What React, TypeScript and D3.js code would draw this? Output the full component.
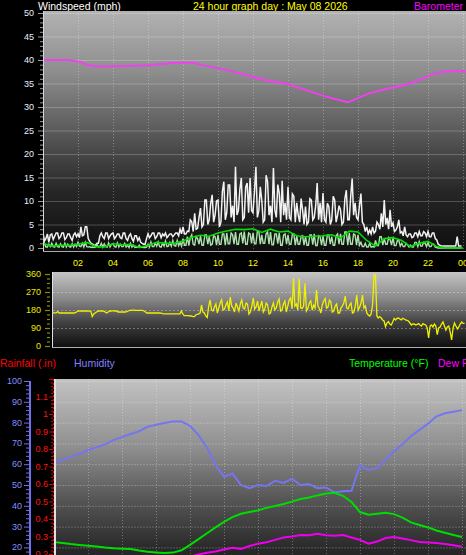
import React from "react";
import * as d3 from "d3";

// ---------- DATA ----------
const hourLabels = ["02", "04", "06", "08", "10", "12", "14", "16", "18", "20", "22", "00"];
const windTicks = [0, 5, 10, 15, 20, 25, 30, 35, 40, 45, 50];
const dirTicks = [0, 90, 180, 270, 360];
const humTicks = [20, 30, 40, 50, 60, 70, 80, 90, 100];
const rainTicks = [0.2, 0.3, 0.4, 0.5, 0.6, 0.7, 0.8, 0.9, 1.0, 1.1];

// wind gust (mph), every 5 minutes
const gust = [
  3.2, 1.5, 2.0, 3.0, 1.2, 2.8, 3.0, 1.8, 2.5, 3.2, 3.2, 2.0,
  2.4, 3.2, 3.2, 1.8, 2.2, 3.0, 3.0, 2.2, 1.6, 2.8, 3.2, 2.4,
  3.0, 2.2, 4.5, 2.6, 2.8, 4.5, 4.5, 2.0, 1.4, 1.0, 0.8, 0.6,
  0.6, 1.0, 1.0, 2.6, 3.2, 2.4, 2.0, 3.2, 3.2, 2.0, 2.6, 3.0,
  3.2, 2.0, 2.4, 3.0, 3.0, 2.2, 2.0, 3.2, 3.2, 2.0, 1.6, 2.6,
  3.0, 2.0, 1.4, 2.6, 2.6, 1.6, 2.2, 1.2, 1.0, 0.8, 0.8, 2.0,
  3.0, 2.2, 2.6, 3.2, 3.2, 2.0, 2.4, 3.2, 3.2, 2.2, 3.0, 2.6,
  3.2, 2.2, 2.6, 3.0, 3.0, 2.4, 2.8, 3.2, 3.2, 2.6, 4.0, 3.0,
  4.5, 3.0, 3.0, 3.6, 3.5, 6.0, 5.6, 3.5, 7.4, 4.0, 4.2, 6.5,
  8.5, 4.5, 5.0, 10.2, 10.2, 5.0, 6.0, 9.5, 11.3, 5.5, 7.0, 10.0,
  10.2, 4.5, 5.5, 12.0, 14.1, 6.0, 7.5, 13.4, 13.4, 6.5, 9.0, 5.5,
  17.3, 7.0, 8.0, 12.5, 14.9, 6.0, 6.5, 13.0, 13.8, 7.5, 14.9, 8.0,
  7.5, 12.0, 17.3, 6.5, 8.0, 13.0, 10.2, 5.5, 6.0, 15.5, 14.1, 7.0,
  9.0, 5.5, 17.0, 8.0, 6.5, 13.5, 11.7, 5.5, 14.3, 7.0, 9.6, 6.0,
  13.0, 6.5, 6.0, 11.5, 11.0, 5.5, 9.6, 7.0, 5.5, 10.5, 8.1, 5.0,
  8.8, 5.0, 5.5, 10.5, 10.2, 6.0, 6.5, 9.0, 13.8, 6.0, 9.6, 5.5,
  11.7, 6.0, 5.5, 9.5, 8.8, 5.0, 6.0, 11.0, 10.2, 5.5, 7.0, 9.0,
  8.1, 5.0, 5.5, 10.5, 12.3, 6.0, 6.0, 11.0, 14.8, 7.0, 9.6, 6.5,
  6.0, 9.0, 11.6, 5.5, 5.0, 3.5, 4.5, 3.0, 3.8, 3.0, 4.5, 3.2,
  3.6, 5.5, 5.0, 4.0, 7.4, 4.5, 10.2, 5.0, 6.4, 4.0, 8.1, 4.5,
  5.3, 3.5, 3.8, 4.5, 6.0, 3.2, 3.5, 2.6, 4.5, 2.8, 2.4, 3.0,
  3.0, 2.2, 2.4, 3.2, 3.2, 2.4, 3.5, 2.6, 2.6, 3.5, 3.2, 2.4,
  3.5, 2.4, 2.4, 3.2, 3.2, 2.0, 1.7, 0.8, 0.6, 0.4, 0.4, 0.4,
  0.4, 0.4, 0.4, 0.4, 0.4, 0.4, 0.4, 0.4, 2.4, 0.4, 0.4, 0.4,
];

// average wind speed (mph), every 5 minutes
const avgWind = [
  0.3, 1.0, 0.2, 0.2, 0.8, 0.3, 1.0, 0.3, 0.2, 1.0, 0.3, 0.2,
  0.9, 0.3, 0.2, 1.0, 0.2, 0.8, 0.3, 0.2, 0.9, 0.2, 0.8, 0.3,
  1.2, 0.4, 0.3, 1.0, 0.2, 1.2, 0.3, 0.2, 0.3, 0.1, 0.2, 0.1,
  0.2, 0.8, 0.2, 0.3, 1.0, 0.2, 0.9, 0.3, 0.2, 1.1, 0.2, 0.8,
  0.9, 0.3, 0.2, 1.1, 0.2, 0.8, 0.3, 0.3, 1.0, 0.2, 0.6, 0.1,
  1.0, 0.2, 0.6, 0.1, 0.2, 0.1, 0.6, 0.1, 0.2, 0.1, 0.1, 0.2,
  0.8, 0.2, 1.3, 0.3, 0.3, 1.0, 0.4, 1.3, 0.3, 0.2, 1.0, 0.4,
  1.5, 0.3, 0.4, 1.2, 0.4, 1.6, 0.5, 0.4, 1.6, 0.5, 1.2, 0.4,
  2.0, 0.6, 0.6, 2.4, 0.5, 2.2, 2.8, 0.8, 0.6, 2.4, 2.0, 0.8,
  2.6, 0.6, 0.6, 2.8, 2.8, 0.8, 2.4, 0.6, 0.8, 2.6, 2.4, 0.6,
  2.8, 0.8, 0.8, 3.0, 3.0, 0.6, 3.2, 0.9, 0.9, 3.2, 2.8, 0.8,
  3.4, 0.8, 0.8, 3.0, 3.2, 1.0, 3.5, 0.8, 0.8, 3.2, 3.0, 1.0,
  3.2, 0.9, 0.9, 3.6, 3.6, 0.8, 2.8, 1.0, 1.0, 3.0, 3.4, 0.8,
  3.4, 0.7, 0.7, 3.0, 3.0, 0.9, 3.2, 0.6, 0.6, 2.8, 3.0, 0.8,
  2.8, 0.8, 0.8, 3.0, 3.0, 0.6, 2.6, 0.8, 0.8, 2.4, 2.6, 0.6,
  2.4, 0.6, 0.6, 2.8, 2.8, 0.7, 3.0, 0.5, 0.5, 2.6, 2.4, 0.6,
  2.6, 0.6, 0.6, 2.8, 2.8, 0.8, 2.4, 0.6, 0.6, 2.6, 3.0, 0.8,
  3.0, 0.8, 0.8, 3.4, 3.4, 0.6, 3.2, 0.8, 0.8, 3.0, 2.8, 0.6,
  2.8, 0.6, 1.2, 0.3, 0.3, 1.0, 0.2, 0.2, 1.0, 0.2, 0.3, 0.2,
  1.6, 0.5, 0.5, 2.4, 2.4, 0.6, 2.0, 0.8, 0.8, 2.2, 1.8, 0.6,
  2.2, 0.5, 0.5, 1.6, 1.6, 0.4, 1.0, 0.3, 0.3, 1.0, 0.6, 0.2,
  0.6, 0.2, 0.2, 1.2, 1.2, 0.3, 1.4, 0.4, 0.4, 1.2, 1.0, 0.3,
  1.2, 0.3, 0.3, 0.8, 0.8, 0.2, 0.1, 0.0, 0.0, 0.0, 0.0, 0.0,
  0.0, 0.0, 0.0, 0.0, 0.0, 0.0, 0.0, 0.0, 0.0, 0.0, 0.0, 0.0,
];

// 10-minute average wind (mph), every 30 minutes
const avg10 = [
  1.0, 0.4, 0.6, 0.6, 0.8, 1.2, 0.3, 0.2, 0.9, 0.7, 0.8, 0.1,
  0.6, 1.2, 1.0, 1.0, 1.5, 2.3, 2.7, 2.5, 3.2, 3.6, 4.0, 3.9,
  4.1, 3.3, 4.0, 3.4, 3.6, 2.6, 2.4, 2.5, 2.6, 2.8, 2.1, 3.6,
  3.4, 1.6, 0.4, 2.0, 2.2, 1.6, 0.3, 1.0, 1.4, 0.3, 0.0, 0.0, 0.0,
];

// barometer trace (plotted against the windspeed axis)
const baroHours = [0.06, 1.43, 2.1, 2.57, 3.26, 4.69, 6.11, 7.54, 8.57, 9.26, 10.46, 11.6, 12.74, 13.89, 15.03, 16.17, 17.43, 18.06, 18.63, 19.77, 20.91, 21.89, 22.63, 23.6, 24.17];
const baroValues = [40.0, 40.0, 39.6, 38.9, 38.6, 38.7, 38.9, 39.4, 39.4, 38.8, 37.9, 36.8, 35.7, 35.0, 33.6, 32.2, 31.0, 32.0, 32.9, 34.0, 34.9, 36.4, 37.4, 37.7, 37.5];

// wind direction (degrees), every 5 minutes
const direction = [
  166, 166, 166, 166, 172, 165, 165, 165, 165, 165, 165, 165,
  165, 165, 165, 165, 166, 170, 175, 175, 175, 175, 175, 175,
  175, 175, 174, 174, 147, 160, 165, 170, 175, 175, 175, 175,
  174, 170, 165, 170, 175, 175, 176, 176, 175, 175, 170, 170,
  170, 170, 170, 170, 172, 175, 178, 178, 179, 179, 178, 178,
  178, 178, 178, 178, 175, 170, 165, 165, 165, 165, 165, 165,
  165, 165, 165, 165, 164, 162, 161, 161, 161, 161, 161, 161,
  161, 161, 161, 161, 161, 161, 175, 160, 152, 152, 152, 152,
  150, 150, 147, 147, 155, 158, 160, 165, 205, 170, 165, 150,
  142, 200, 230, 180, 175, 195, 210, 165, 190, 215, 231, 180,
  185, 205, 220, 175, 245, 200, 190, 170, 215, 195, 175, 210,
  230, 190, 185, 215, 210, 160, 170, 200, 240, 185, 195, 225,
  175, 200, 225, 170, 185, 215, 205, 160, 165, 195, 215, 180,
  190, 220, 235, 175, 180, 210, 225, 170, 200, 230, 240, 185,
  338, 200, 210, 180, 338, 190, 188, 200, 313, 175, 188, 215,
  225, 180, 205, 190, 280, 200, 188, 165, 205, 225, 238, 190,
  195, 230, 220, 170, 175, 200, 210, 165, 165, 190, 200, 215,
  250, 190, 185, 205, 215, 165, 170, 200, 255, 180, 195, 215,
  255, 190, 200, 165, 155, 150, 160, 205, 355, 355, 150, 140,
  147, 140, 130, 125, 97, 115, 122, 110, 105, 120, 138, 130,
  138, 140, 135, 130, 138, 135, 130, 128, 125, 115, 105, 110,
  110, 105, 108, 112, 105, 100, 112, 108, 105, 90, 40, 100,
  105, 95, 110, 100, 57, 90, 95, 110, 120, 100, 80, 95,
  100, 70, 30, 90, 115, 100, 85, 95, 110, 120, 113, 113,
];

// humidity (%), temperature (°F), dew point (°F), every 30 minutes
const humidity = [
  60.6, 62, 63.5, 65, 66.8, 68, 69.5, 71.6, 73, 74.5, 75.8, 78,
  79, 79.8, 80.5, 80.5, 78.5, 74, 68, 59.5, 54, 55.5, 50, 48.5,
  50, 49.5, 52, 51, 53, 50, 50.5, 48.5, 48.8, 46.5, 47, 47.2,
  59.5, 57.2, 58.2, 62, 66.3, 69.5, 73.5, 76.5, 79.5, 83, 84.5, 85.2, 86,
];
const temperature = [
  22.6, 22.1, 21.6, 21.2, 20.8, 20.4, 19.9, 19.6, 19.4, 19.2, 18.5, 17.9,
  17.6, 17.3, 17.5, 18.6, 21.2, 24.0, 26.8, 29.6, 32.3, 34.6, 36.2, 37.0,
  37.8, 39.0, 39.9, 40.9, 42.0, 43.3, 44.0, 45.0, 45.9, 46.3, 44.8, 41.8,
  37.0, 35.7, 36.2, 36.6, 36.0, 34.3, 32.0, 30.8, 29.6, 28.1, 27.0, 26.0, 25.0,
];
const dewPoint = [
  13.5, 13.4, 13.2, 13.0, 12.9, 12.8, 12.7, 12.6, 12.5, 12.5, 12.4, 12.4,
  12.6, 13.0, 13.8, 14.6, 15.5, 16.6, 17.4, 18.0, 19.0, 19.8, 19.3, 20.7,
  21.8, 22.5, 23.6, 24.8, 25.2, 26.0, 25.8, 26.5, 25.8, 25.6, 26.0, 24.8,
  23.6, 21.8, 22.8, 24.5, 25.0, 24.3, 23.5, 22.6, 22.4, 22.1, 21.6, 21.0, 20.3,
];

// ---------- COMPONENT ----------
const FONT = "'Liberation Sans', Arial, sans-serif";

export default function App() {
  const W = 466, H = 555;

  const xW = d3.scaleLinear().domain([0, 24]).range([43, 463]);
  const yW = d3.scaleLinear().domain([0, 50]).range([248, 13]);
  const xD = d3.scaleLinear().domain([0, 24]).range([52, 466]);
  const yD = d3.scaleLinear().domain([0, 360]).range([346, 274]);
  const xB = d3.scaleLinear().domain([0, 24]).range([54, 462]);
  const yH = d3.scaleLinear().domain([0, 100]).range([589, 381]);
  const yR = d3.scaleLinear().domain([0, 1.2]).range([589, 379]);
  const yT = d3.scaleLinear().domain([0, 100]).range([589, 381]);

  const lineW = (arr: number[], step: number) =>
    d3.line<number>().x((_, i) => xW(i * step)).y((d) => yW(d))(arr) || "";
  const baroPath =
    d3.line<number>().x((_, i) => xW(baroHours[i])).y((d) => yW(d))(baroValues) || "";
  const dirPath =
    d3.line<number>().x((_, i) => xD(i / 12)).y((d) => yD(d))(direction) || "";
  const lineB = (arr: number[], ys: d3.ScaleLinear<number, number>) =>
    d3.line<number>().x((_, i) => xB(i / 2)).y((d) => ys(d))(arr) || "";

  const hours = d3.range(2, 25, 2);
  const windMinor = d3.range(0, 51, 1);
  const dirMinor = d3.range(0, 361, 22.5);
  const humMinor = d3.range(16, 101, 2);
  const rainMinor = d3.range(0.2, 1.2001, 0.02);

  return (
    <svg
      width={W}
      height={H}
      style={{ position: "absolute", left: 0, top: 0, display: "block" }}
      fontFamily={FONT}
    >
      <defs>
        <linearGradient id="gW" gradientUnits="userSpaceOnUse" x1="0" y1="11" x2="0" y2="252">
          <stop offset="0" stopColor="#b2b2b2" />
          <stop offset="0.25" stopColor="#8e8e8e" />
          <stop offset="0.5" stopColor="#5a5a5a" />
          <stop offset="0.75" stopColor="#262626" />
          <stop offset="1" stopColor="#0e0e0e" />
        </linearGradient>
        <linearGradient id="gD" gradientUnits="userSpaceOnUse" x1="0" y1="272" x2="0" y2="348">
          <stop offset="0" stopColor="#c4c4c4" />
          <stop offset="0.35" stopColor="#8a8a8a" />
          <stop offset="0.65" stopColor="#444444" />
          <stop offset="1" stopColor="#0c0c0c" />
        </linearGradient>
        <linearGradient id="gB" gradientUnits="userSpaceOnUse" x1="0" y1="379" x2="0" y2="590">
          <stop offset="0" stopColor="#c2c2c2" />
          <stop offset="0.33" stopColor="#8e8e8e" />
          <stop offset="0.57" stopColor="#565656" />
          <stop offset="0.81" stopColor="#282828" />
          <stop offset="1" stopColor="#121212" />
        </linearGradient>
        <clipPath id="cW"><rect x={44} y={11} width={422} height={241} /></clipPath>
        <clipPath id="cD"><rect x={53} y={272} width={413} height={76} /></clipPath>
        <clipPath id="cB"><rect x={56} y={379} width={410} height={176} /></clipPath>
      </defs>

      <rect x={0} y={0} width={W} height={H} fill="#000" />

      {/* ---------- header ---------- */}
      <text x={38} y={9.5} fontSize={10.5} fill="#ffffff">Windspeed (mph)</text>
      <text x={193} y={9.5} fontSize={10.5} fill="#ffff00">24 hour graph day : May 08 2026</text>
      <text x={414} y={9.5} fontSize={10.5} fill="#ff00ff">Barometer</text>

      {/* ---------- wind panel ---------- */}
      <rect x={44} y={11} width={422} height={241} fill="url(#gW)" />
      {windTicks.slice(1).map((t) => (
        <line key={"wg" + t} x1={44} x2={466} y1={yW(t) + 0.5} y2={yW(t) + 0.5} stroke="#ffffff" strokeOpacity={0.22} />
      ))}
      {hours.map((h) => (
        <line key={"wv" + h} x1={xW(h) + 0.5} x2={xW(h) + 0.5} y1={11} y2={252} stroke="#ffffff" strokeOpacity={0.3} strokeDasharray="1,2" />
      ))}
      <g clipPath="url(#cW)">
        <path d={lineW(gust, 1 / 12)} fill="none" stroke="#f2f2f2" strokeWidth={1.5} />
        <path d={lineW(avgWind, 1 / 12)} fill="none" stroke="#ade2ad" strokeWidth={1.4} />
        <path d={lineW(avg10, 0.5)} fill="none" stroke="#00e000" strokeWidth={1.6} />
        <path d={baroPath} fill="none" stroke="#f040f0" strokeWidth={2} />
      </g>
      <line x1={43.5} x2={43.5} y1={11} y2={252} stroke="#d8d8d8" />
      <line x1={43} x2={466} y1={251.5} y2={251.5} stroke="#a8a8a8" />
      {windMinor.map((t) => (
        <line key={"wt" + t} x1={t % 5 === 0 ? 38 : 40} x2={43} y1={yW(t) + 0.5} y2={yW(t) + 0.5} stroke="#9a9a9a" />
      ))}
      {windTicks.map((t) => (
        <text key={"wl" + t} x={34} y={yW(t) + 3} fontSize={9} fill="#e6f0ff" textAnchor="end">{t}</text>
      ))}
      {hours.map((h, i) => (
        <text key={"hl" + h} x={xW(h)} y={266} fontSize={9} fill="#ffff00" textAnchor="middle">{hourLabels[i]}</text>
      ))}

      {/* ---------- direction panel ---------- */}
      <rect x={52} y={272} width={414} height={76} fill="url(#gD)" />
      {[90, 180, 270].map((t) => (
        <line key={"dg" + t} x1={53} x2={466} y1={yD(t) + 0.5} y2={yD(t) + 0.5} stroke="#ffffff" strokeOpacity={0.3} strokeDasharray="2,2" />
      ))}
      <g clipPath="url(#cD)">
        <path d={dirPath} fill="none" stroke="#f0f000" strokeWidth={1.3} />
      </g>
      <line x1={52.5} x2={52.5} y1={272} y2={348} stroke="#e0e0e0" />
      <line x1={52} x2={466} y1={347.5} y2={347.5} stroke="#b0b0b0" />
      {dirMinor.map((t) => (
        <line key={"dt" + t} x1={t % 90 === 0 ? 45 : 47} x2={50} y1={yD(t) + 0.5} y2={yD(t) + 0.5} stroke="#8a8a00" strokeWidth={1.2} />
      ))}
      {dirTicks.map((t) => (
        <text key={"dl" + t} x={41} y={yD(t) + 3} fontSize={9} fill="#e8e800" textAnchor="end">{t}</text>
      ))}

      {/* ---------- bottom panel header ---------- */}
      <text x={0} y={367} fontSize={10.5} fill="#ff0000">Rainfall (.in)</text>
      <text x={74} y={367} fontSize={10.5} fill="#8080ff">Humidity</text>
      <text x={349} y={367} fontSize={10.5} fill="#00ff00">Temperature (°F)</text>
      <text x={438} y={367} fontSize={10.5} fill="#ff00ff">Dew Point (°F)</text>

      {/* ---------- bottom panel ---------- */}
      <rect x={54} y={379} width={412} height={176} fill="url(#gB)" />
      {humTicks.map((t) => (
        <line key={"hg" + t} x1={56} x2={466} y1={yH(t) + 0.5} y2={yH(t) + 0.5} stroke="#ffffff" strokeOpacity={0.22} strokeDasharray="2,1" />
      ))}
      {hours.map((h) => (
        <line key={"bv" + h} x1={xB(h) + 0.5} x2={xB(h) + 0.5} y1={379} y2={555} stroke="#ffffff" strokeOpacity={0.3} strokeDasharray="1,2" />
      ))}
      <g clipPath="url(#cB)">
        <path d={lineB(humidity, yH)} fill="none" stroke="#7575f0" strokeWidth={2} />
        <path d={lineB(temperature, yT)} fill="none" stroke="#00dd00" strokeWidth={2} />
        <path d={lineB(dewPoint, yT)} fill="none" stroke="#ee00ee" strokeWidth={2} />
      </g>
      <rect x={54} y={379} width={2} height={176} fill="#e0e0e0" />
      <line x1={53.5} x2={53.5} y1={379} y2={555} stroke="#e00000" strokeDasharray="2,2" />
      {rainMinor.map((t, i) => (
        <line key={"rt" + i} x1={i % 5 === 0 ? 49 : 51} x2={53} y1={yR(t) + 0.5} y2={yR(t) + 0.5} stroke="#e00000" />
      ))}
      {rainTicks.map((t) => (
        <text key={"rl" + t} x={48} y={yR(t) + 3} fontSize={9} fill="#ff1010" textAnchor="end">{String(+t.toFixed(1))}</text>
      ))}
      <rect x={29} y={381} width={2} height={174} fill="#7070f0" />
      {humMinor.map((t) => (
        <line key={"ht" + t} x1={t % 10 === 0 ? 24 : 26} x2={29} y1={yH(t) + 0.5} y2={yH(t) + 0.5} stroke="#7070e0" />
      ))}
      {humTicks.map((t) => (
        <text key={"hl2" + t} x={22} y={yH(t) + 3} fontSize={9} fill="#8090ff" textAnchor="end">{t}</text>
      ))}
    </svg>
  );
}
